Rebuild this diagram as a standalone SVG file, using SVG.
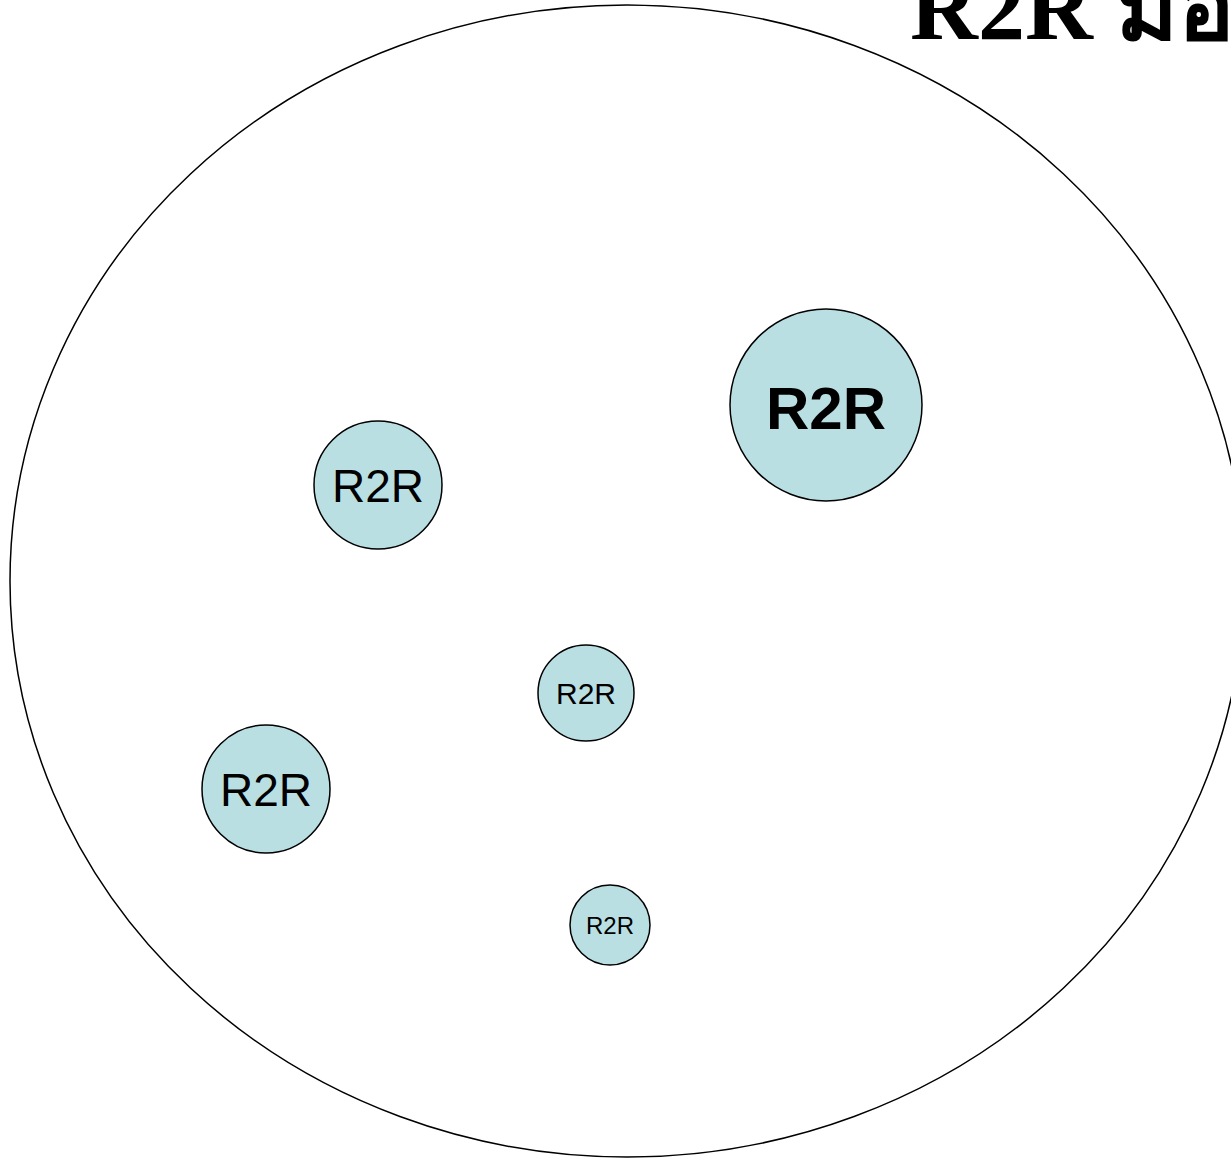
<svg xmlns="http://www.w3.org/2000/svg" width="1231" height="1161" viewBox="0 0 1231 1161">
  <style>
    .node { fill: #badfe3; stroke: #000; stroke-width: 1.5; }
    .lbl { font-family: "Liberation Sans", Arial, sans-serif; fill: #000; text-anchor: middle; }
    .title { font-family: "Liberation Serif", "Noto Sans", serif; font-weight: bold; fill: #000; }
  </style>
  <rect width="1231" height="1161" fill="#fff"/>

  <!-- outer boundary -->
  <ellipse cx="627" cy="581" rx="617" ry="576" fill="none" stroke="#000" stroke-width="1.5"/>

  <!-- heading (runs off the right edge) -->
  <text class="title" x="910" y="39" font-size="94">R2R มีอ</text>

  <g id="connectors"></g>

  <g id="node-large">
    <circle class="node" cx="826" cy="405" r="96"/>
    <text class="lbl" x="826" y="429" font-size="60" font-weight="bold">R2R</text>
  </g>
  <g id="node-upper-left">
    <circle class="node" cx="378" cy="485" r="64"/>
    <text class="lbl" x="378" y="502" font-size="46">R2R</text>
  </g>
  <g id="node-lower-left">
    <circle class="node" cx="266" cy="789" r="64"/>
    <text class="lbl" x="266" y="806" font-size="46">R2R</text>
  </g>
  <g id="node-center">
    <circle class="node" cx="586" cy="693" r="48"/>
    <text class="lbl" x="586" y="704" font-size="30">R2R</text>
  </g>
  <g id="node-bottom">
    <circle class="node" cx="610" cy="925" r="40"/>
    <text class="lbl" x="610" y="934" font-size="24">R2R</text>
  </g>
</svg>
